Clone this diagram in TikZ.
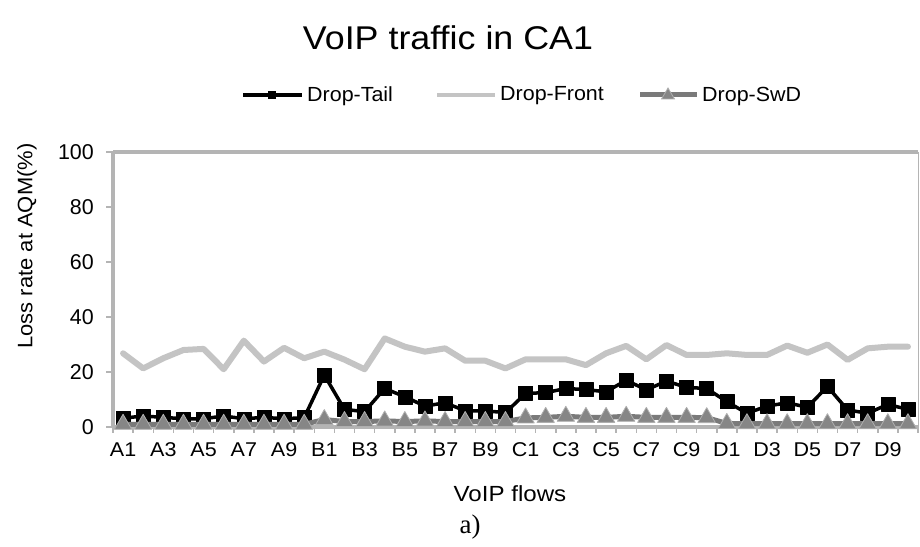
\documentclass[tikz,border=0pt]{standalone}
\usepackage{fontspec}
\setmainfont{Liberation Sans}
\newfontfamily\timesf{Liberation Serif}
\usepackage{graphicx}
\usetikzlibrary{plotmarks}
\definecolor{axisgray}{RGB}{180,180,180}
\definecolor{frontgray}{RGB}{196,196,196}
\definecolor{swdgray}{RGB}{122,122,122}
\definecolor{trifill}{RGB}{134,134,134}
\definecolor{triedge}{RGB}{175,175,175}
\newcommand{\hx}[2]{\scalebox{#1}[1]{#2}}
\begin{document}
\begin{tikzpicture}[x=1bp,y=-1bp,
  txt/.style={inner sep=0pt},
  ticklab/.style={txt,anchor=east,font=\fontsize{21.5}{25}\selectfont},
  catlab/.style={txt,font=\fontsize{20}{24}\selectfont},
  legtext/.style={txt,anchor=west,font=\fontsize{20.5}{24}\selectfont},
  axisline/.style={draw=axisgray,line width=3.5bp},
  tickline/.style={draw=axisgray,line width=1.5bp},
  tailline/.style={draw=black,line width=3.5bp,line join=round},
  frontline/.style={draw=frontgray,line width=6bp,line join=round,line cap=round},
  swdline/.style={draw=swdgray,line width=5bp,line join=round}]
\useasboundingbox (0,0) rectangle (920,547);
\fill[white] (0,0) rectangle (920,547);
% title
\node[txt,font=\fontsize{33}{38}\selectfont] (title) at (448,38) {\hx{1.09}{VoIP traffic in CA1}};
% legend
\coordinate (l1a) at (243,95); \coordinate (l1b) at (302,95);
\draw[tailline] (l1a) -- (l1b);
\node[fill=black,minimum size=8.5bp,inner sep=0pt] (l1m) at (272,95) {};
\node[legtext] (l1t) at (307,96) {\hx{1.05}{Drop-Tail}};
\coordinate (l2a) at (437,95); \coordinate (l2b) at (495,95);
\draw[draw=frontgray,line width=4.5bp] (l2a) -- (l2b);
\node[legtext] (l2t) at (500,96) {\hx{1.05}{Drop-Front}};
\coordinate (l3a) at (640,95); \coordinate (l3b) at (697,95);
\draw[draw=swdgray,line width=5bp] (l3a) -- (l3b);
\filldraw[fill=trifill,draw=triedge,line width=0.8bp] (668,95) +(-6.5,4) -- +(6.5,4) -- +(0,-7) -- cycle;
\node[legtext] (l3t) at (702,96) {\hx{1.05}{Drop-SwD}};
% axis titles
\node[txt,rotate=90,font=\fontsize{21}{25}\selectfont] (ylab) at (27,246) {\hx{1.05}{Loss rate at AQM(\%)}};
\node[txt,font=\fontsize{22}{26}\selectfont] (xlab) at (510,494) {\hx{1.1}{VoIP flows}};
\node[txt,font=\timesf\fontsize{27}{31}\selectfont] (cap) at (470,527) {a)};
\begin{scope}[shift={(113,427)},x=20.125bp,y=2.75bp]
  \draw[draw=axisgray,line width=1bp] (40,0) -- (40,100);
  \draw[axisline] (0,100) -- (40,100);
  \foreach \k in {0,...,40} \draw[tickline] (\k,0) -- ++(0,-6bp);
  \foreach \v in {0,20,...,100} {
    \draw[tickline] (0,\v) -- ++(-7bp,0);
    \node[ticklab] (yl\v) at ([xshift=-19bp]0,\v) {\v};
  }
  \draw[axisline] (0,0) -- (0,100);
  \draw[axisline] (0,0) -- (40,0);
  \foreach \n [count=\i] in {A1,A3,A5,A7,A9,B1,B3,B5,B7,B9,C1,C3,C5,C7,C9,D1,D3,D5,D7,D9}
    \node[catlab] (cl\n) at ([yshift=-23bp]2*\i-1.5,0) {\hx{1.08}{\n}};
  % Drop-Tail
  \draw[tailline] plot[mark=square*,mark size=7bp,mark options={fill=black,draw=black,line width=0.5bp}] coordinates {
    (0.5,3.2) (1.5,4) (2.5,3.5) (3.5,3) (4.5,3) (5.5,4) (6.5,3) (7.5,3.5) (8.5,3) (9.5,3.4)
    (10.5,18.9) (11.5,6.4) (12.5,5.6) (13.5,14) (14.5,11) (15.5,7.6) (16.5,8.8) (17.5,5.9) (18.5,5.9) (19.5,5.2)
    (20.5,12.2) (21.5,12.5) (22.5,14) (23.5,13.6) (24.5,12.8) (25.5,17) (26.5,13.5) (27.5,16.7) (28.5,14.4) (29.5,14)
    (30.5,9.2) (31.5,5) (32.5,7.6) (33.5,8.8) (34.5,7.2) (35.5,14.7) (36.5,6.2) (37.5,5) (38.5,8.2) (39.5,6.4)};
  % Drop-Front
  \draw[frontline] plot coordinates {
    (0.5,26.8) (1.5,21.3) (2.5,25) (3.5,28) (4.5,28.4) (5.5,21) (6.5,31.4) (7.5,23.8) (8.5,28.8) (9.5,25)
    (10.5,27.4) (11.5,24.5) (12.5,21) (13.5,32.2) (14.5,29.2) (15.5,27.4) (16.5,28.6) (17.5,24.1) (18.5,24.1) (19.5,21.3)
    (20.5,24.6) (21.5,24.6) (22.5,24.6) (23.5,22.5) (24.5,26.8) (25.5,29.5) (26.5,24.6) (27.5,29.8) (28.5,26.2) (29.5,26.2)
    (30.5,26.8) (31.5,26.2) (32.5,26.2) (33.5,29.6) (34.5,27) (35.5,30) (36.5,24.4) (37.5,28.6) (38.5,29.2) (39.5,29.2)};
  % Drop-SwD
  \draw[swdline] plot[mark=triangle*,mark size=10bp,mark options={fill=trifill,draw=triedge,line width=0.8bp}] coordinates {
    (0.5,1) (1.5,1) (2.5,1) (3.5,1) (4.5,1) (5.5,1) (6.5,1) (7.5,1) (8.5,1) (9.5,1)
    (10.5,2.7) (11.5,2) (12.5,2) (13.5,2.2) (14.5,2) (15.5,2.2) (16.5,2) (17.5,2) (18.5,2) (19.5,2)
    (20.5,3.3) (21.5,3.5) (22.5,3.9) (23.5,3.5) (24.5,3.5) (25.5,3.9) (26.5,3.5) (27.5,3.5) (28.5,3.5) (29.5,3.4)
    (30.5,1.3) (31.5,1.2) (32.5,1.2) (33.5,1.2) (34.5,1.2) (35.5,1.2) (36.5,1.2) (37.5,1.2) (38.5,1.2) (39.5,1.2)};
\end{scope}
\end{tikzpicture}
\end{document}
